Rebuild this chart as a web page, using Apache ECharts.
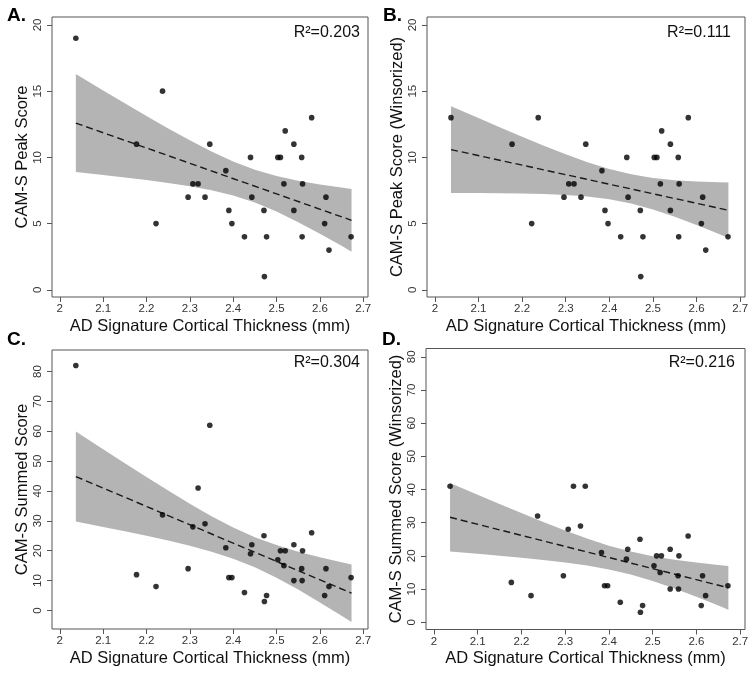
<!DOCTYPE html>
<html>
<head>
<meta charset="utf-8">
<script src="https://cdn.jsdelivr.net/npm/echarts@6/dist/echarts.min.js"></script>
<style>
html,body{margin:0;padding:0;background:#fff;}
#chart{width:754px;height:675px;}
</style>
</head>
<body>
<div id="chart"></div>
<script>
// ---- data ----
const thickness = [2.037, 2.177, 2.222, 2.237, 2.296, 2.307, 2.319, 2.335, 2.346, 2.383, 2.390, 2.397, 2.426, 2.440, 2.443, 2.471,
                   2.472, 2.477, 2.503, 2.509, 2.517, 2.520, 2.540, 2.540, 2.558, 2.559, 2.560, 2.581, 2.611, 2.614, 2.621, 2.672];
const peakScore = [19, 11, 5, 15, 7, 8, 8, 7, 11, 9, 6, 5, 4, 10, 7, 6, 1, 4, 10, 10, 8, 12, 11, 6, 10, 4, 8, 13, 5, 7, 3, 4];
const peakScoreW = [13, 11, 5, 13, 7, 8, 8, 7, 11, 9, 6, 5, 4, 10, 7, 6, 1, 4, 10, 10, 8, 12, 11, 6, 10, 4, 8, 13, 5, 7, 3, 4];
const summedScore = [82, 12, 8, 32, 14, 28, 41, 29, 62, 21, 11, 11, 6, 19, 22, 25, 3, 5, 17, 20, 15, 20, 22, 10, 14, 10, 20, 26, 5, 14, 8, 11];
const summedScoreW = [41, 12, 8, 32, 14, 28, 41, 29, 41, 21, 11, 11, 6, 19, 22, 25, 3, 5, 17, 20, 15, 20, 22, 10, 14, 10, 20, 26, 5, 14, 8, 11];

// confidence band at these x positions
const bandX = [2.037, 2.1, 2.15, 2.2, 2.25, 2.3, 2.35, 2.4, 2.45, 2.5, 2.55, 2.6, 2.65, 2.673];
const bandA_lo = [8.89, 8.67, 8.49, 8.29, 8.07, 7.82, 7.52, 7.12, 6.59, 5.91, 5.11, 4.24, 3.32, 2.88];
const bandA_hi = [16.29, 15.06, 14.09, 13.13, 12.19, 11.29, 10.44, 9.69, 9.07, 8.59, 8.23, 7.95, 7.72, 7.62];
const bandB_lo = [7.31, 7.31, 7.30, 7.28, 7.24, 7.16, 7.04, 6.84, 6.52, 6.07, 5.51, 4.89, 4.23, 3.92];
const bandB_hi = [13.87, 12.97, 12.26, 11.56, 10.88, 10.23, 9.63, 9.12, 8.72, 8.45, 8.28, 8.18, 8.12, 8.11];
const bandC_lo = [29.77, 27.98, 26.51, 24.99, 23.39, 21.64, 19.67, 17.32, 14.44, 10.95, 6.99, 2.71, -1.75, -3.84];
const bandC_hi = [59.91, 53.97, 49.30, 44.68, 40.15, 35.75, 31.58, 27.79, 24.54, 21.88, 19.70, 17.84, 16.16, 15.43];
const bandD_lo = [21.31, 20.62, 20.05, 19.44, 18.77, 18.01, 17.09, 15.92, 14.37, 12.42, 10.14, 7.64, 5.02, 3.79];
const bandD_hi = [41.93, 38.41, 35.64, 32.91, 30.24, 27.66, 25.24, 23.08, 21.28, 19.89, 18.83, 17.99, 17.27, 16.97];

// fitted line end points
const fitX = [2.037, 2.673];
const fitA = [12.59, 5.25];
const fitB = [10.59, 6.01];
const fitC = [44.84, 5.79];
const fitD = [31.62, 10.38];

const xTicks = [2, 2.1, 2.2, 2.3, 2.4, 2.5, 2.6, 2.7];
const yTicksPeak = [0, 5, 10, 15, 20];
const yTicksSum = [0, 10, 20, 30, 40, 50, 60, 70, 80];

const xTitle = 'AD Signature Cortical Thickness (mm)';
const yTitles = ['CAM-S Peak Score', 'CAM-S Peak Score (Winsorized)', 'CAM-S Summed Score', 'CAM-S Summed Score (Winsorized)'];
const panelLabels = ['A.', 'B.', 'C.', 'D.'];
const r2Labels = ['R\u00B2=0.203', 'R\u00B2=0.111', 'R\u00B2=0.304', 'R\u00B2=0.216'];

// ---- layout ----
const FONT = 'Liberation Sans, Arial, sans-serif';
const panels = [
  {grid:{left:52, top:17, width:316, height:280}, y:peakScore, lo:bandA_lo, hi:bandA_hi, fit:fitA, ymin:-0.54, ymax:20.6, yt:yTicksPeak},
  {grid:{left:427, top:17, width:318, height:280}, y:peakScoreW, lo:bandB_lo, hi:bandB_hi, fit:fitB, ymin:-0.54, ymax:20.6, yt:yTicksPeak},
  {grid:{left:52, top:350, width:316, height:279}, y:summedScore, lo:bandC_lo, hi:bandC_hi, fit:fitC, ymin:-6.2, ymax:87.2, yt:yTicksSum},
  {grid:{left:426, top:348.5, width:319, height:281}, y:summedScoreW, lo:bandD_lo, hi:bandD_hi, fit:fitD, ymin:-2.2, ymax:82.5, yt:yTicksSum}
];
const labelPos = [
  {lx:7, ly:6, rx:360, ry:33},
  {lx:383, ly:6, rx:731, ry:33},
  {lx:7, ly:330, rx:360, ry:362.5},
  {lx:382, ly:330, rx:735, ry:362.5}
];

const grids = [], xAxes = [], yAxes = [], series = [], graphics = [];
panels.forEach((p, i) => {
  grids.push(Object.assign({show:true, borderColor:'#555', borderWidth:1, backgroundColor:'transparent'}, p.grid));
  xAxes.push({
    type:'value', gridIndex:i, min:1.982, max:2.711,
    splitLine:{show:false}, axisLine:{show:false, onZero:false},
    axisTick:{show:true, inside:false, length:5, customValues:xTicks, lineStyle:{color:'#555', width:1}},
    axisLabel:{customValues:xTicks, margin:6, fontSize:11.5, fontFamily:FONT, color:'#333', showMinLabel:true, showMaxLabel:true},
    name:xTitle, nameLocation:'middle', nameGap:20.5,
    nameTextStyle:{fontSize:16.5, fontFamily:FONT, color:'#111'}
  });
  yAxes.push({
    type:'value', gridIndex:i, min:p.ymin, max:p.ymax,
    splitLine:{show:false}, axisLine:{show:false, onZero:false},
    axisTick:{show:true, inside:false, length:5, customValues:p.yt, lineStyle:{color:'#555', width:1}},
    axisLabel:{customValues:p.yt, rotate:90, margin:8, fontSize:11.5, fontFamily:FONT, color:'#333'},
    name:yTitles[i], nameLocation:'middle', nameGap:21.5, nameRotate:90,
    nameTextStyle:{fontSize:16.5, fontFamily:FONT, color:'#111'}
  });
  const lo = p.lo, hi = p.hi;
  series.push({
    type:'custom', xAxisIndex:i, yAxisIndex:i, silent:true, z:1,
    data:[[bandX[0], lo[0]]],
    renderItem:function(params, api){
      const pts = [];
      for (let k = 0; k < bandX.length; k++) pts.push(api.coord([bandX[k], hi[k]]));
      for (let k = bandX.length - 1; k >= 0; k--) pts.push(api.coord([bandX[k], lo[k]]));
      return {type:'polygon', shape:{points:pts}, style:{fill:'#b4b4b4', stroke:null}};
    }
  });
  series.push({
    type:'line', xAxisIndex:i, yAxisIndex:i, silent:true, z:2,
    data:fitX.map((x, k) => [x, p.fit[k]]),
    showSymbol:false, symbol:'none',
    lineStyle:{color:'#1a1a1a', width:1.4, type:[7,4]}
  });
  series.push({
    type:'scatter', xAxisIndex:i, yAxisIndex:i, silent:true, z:3,
    data:thickness.map((x, k) => [x, p.y[k]]),
    symbol:'circle', symbolSize:5.6, itemStyle:{color:'#000'}
  });
  const lp = labelPos[i];
  graphics.push({type:'text', left:lp.lx, top:lp.ly, style:{text:panelLabels[i], font:'bold 19px ' + FONT, fill:'#000'}});
  graphics.push({type:'text', x:lp.rx, y:lp.ry, style:{text:r2Labels[i], font:'16px ' + FONT, fill:'#111', align:'right', verticalAlign:'middle'}});
});

const chart = echarts.init(document.getElementById('chart'), null, {renderer:'canvas'});
chart.setOption({
  animation:false,
  backgroundColor:'#fff',
  grid:grids, xAxis:xAxes, yAxis:yAxes, series:series, graphic:graphics
});
</script>
</body>
</html>
